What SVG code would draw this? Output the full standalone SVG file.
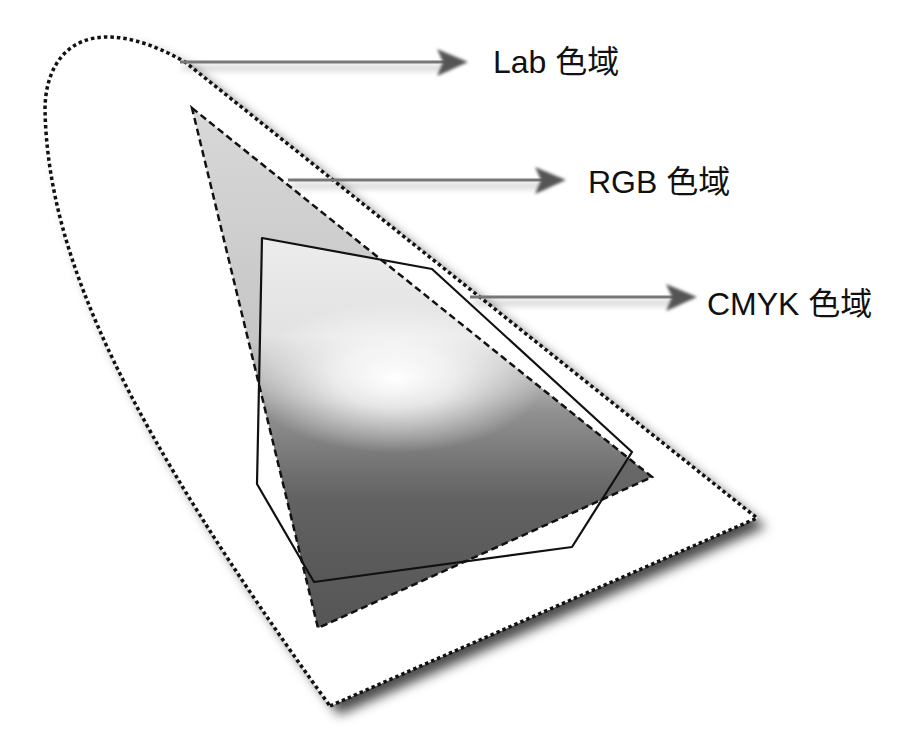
<svg xmlns="http://www.w3.org/2000/svg" width="897" height="740" viewBox="0 0 897 740">
<style>
.lbl{font-family:"Liberation Sans","Noto Sans CJK SC",sans-serif;font-size:32px;fill:#111}
.ln{stroke:#777;stroke-width:3;fill:none}
.head{fill:#555}
</style>
<defs>
<filter id="sh" x="-20%" y="-20%" width="140%" height="140%">
<feDropShadow dx="9" dy="9" stdDeviation="6" flood-color="#000" flood-opacity="0.7"/>
</filter>
<filter id="ash" x="-10%" y="-100%" width="120%" height="400%">
<feDropShadow dx="3" dy="6" stdDeviation="3" flood-color="#000" flood-opacity="0.3"/>
</filter>
<filter id="blur" x="-50%" y="-50%" width="200%" height="200%">
<feGaussianBlur stdDeviation="1.5"/>
</filter>
<linearGradient id="rgbG" gradientUnits="userSpaceOnUse" x1="0" y1="108" x2="0" y2="628">
<stop offset="0" stop-color="#d8d8d8"/>
<stop offset="0.45" stop-color="#c6c6c6"/>
<stop offset="0.65" stop-color="#6a6a6a"/>
<stop offset="1" stop-color="#555"/>
</linearGradient>
<linearGradient id="cmG" gradientUnits="userSpaceOnUse" x1="0" y1="240" x2="0" y2="585">
<stop offset="0" stop-color="#ececec"/>
<stop offset="0.28" stop-color="#e2e2e2"/>
<stop offset="0.5" stop-color="#909090"/>
<stop offset="0.75" stop-color="#626262"/>
<stop offset="1" stop-color="#575757"/>
</linearGradient>
<radialGradient id="hl" gradientUnits="userSpaceOnUse" cx="395" cy="378" r="150" gradientTransform="translate(395 378) scale(1 0.5) translate(-395 -378)">
<stop offset="0" stop-color="#fff" stop-opacity="1"/>
<stop offset="0.4" stop-color="#fff" stop-opacity="0.75"/>
<stop offset="1" stop-color="#fff" stop-opacity="0"/>
</radialGradient>
<clipPath id="rgbClip"><polygon points="192,108 652,477 318,628"/></clipPath>
</defs>
<rect width="897" height="740" fill="#fff"/>

<g id="lab">
<path d="M330,706 L757,518 L185,62 C150,42 120,34 95,38 C60,44 45,75 45,110 C48,260 130,430 330,706 Z" fill="#fff" filter="url(#sh)"/>
<path d="M330,706 L757,518 L185,62 C150,42 120,34 95,38 C60,44 45,75 45,110 C48,260 130,430 330,706 Z" fill="#fff" stroke="#111" stroke-width="3.5" stroke-dasharray="3.5 3"/>
</g>

<g id="rgb">
<polygon points="192,108 652,477 318,628" fill="url(#rgbG)"/>
<g clip-path="url(#rgbClip)">
<polygon points="262,238 432,269 632,452 572,547 314,582 257,484" fill="url(#cmG)"/>
<polygon points="262,238 432,269 632,452 572,547 314,582 257,484" fill="url(#hl)"/>
</g>
<polygon points="192,108 652,477 318,628" fill="none" stroke="#111" stroke-width="2.5" stroke-dasharray="7 4"/>
</g>

<g id="cmyk">
<polygon points="262,238 432,269 632,452 572,547 314,582 257,484" fill="none" stroke="#111" stroke-width="2.2" stroke-linejoin="round"/>
</g>

<g id="connectors">
<g filter="url(#ash)">
<line class="ln" x1="180" y1="62" x2="445" y2="62"/>
<line class="ln" x1="288" y1="180" x2="543" y2="180"/>
<line class="ln" x1="470" y1="297" x2="675" y2="297"/>
</g>
<polygon class="head" points="468,62 437,49 443,62 437,76" filter="url(#blur)"/>
<polygon class="head" points="566,180 535,167 541,180 535,194" filter="url(#blur)"/>
<polygon class="head" points="697,297 666,284 672,297 666,311" filter="url(#blur)"/>
</g>

<g id="labels">
<text class="lbl" x="493" y="73">Lab 色域</text>
<text class="lbl" x="588" y="193">RGB 色域</text>
<text class="lbl" x="707" y="315">CMYK 色域</text>
</g>
</svg>
